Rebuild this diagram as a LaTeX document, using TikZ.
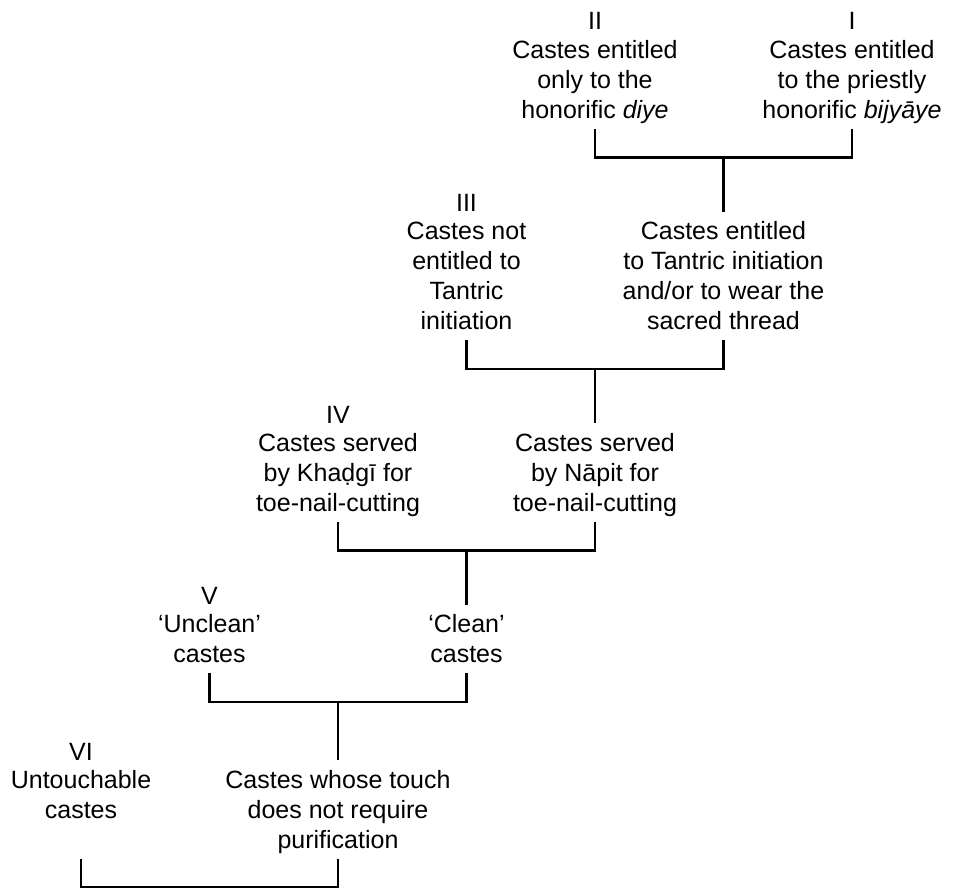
\documentclass[tikz,border=0pt]{standalone}
\usepackage{fontspec}
\setmainfont{Liberation Sans}
\newcommand{\castelevel}[5]{
  \node(num#1)[numeral] at ([xshift=-128.5pt]top-#1){#2};
  \node(numr#1)[numeral] at (top-#1){#3};
  \node(left#1)[caste] at ([yshift=-4.5pt]num#1.base){#4};
  \node(right#1)[caste] at ([yshift=-4.5pt]top-#1){#5};
  \draw (right#1.south) -- ++(0,29)
    -| coordinate[pos=0.25](join-#1) (left#1.south |- right#1.south);
}

\begin{document}
\begin{tikzpicture}[
  x=0.5pt,y=-0.5pt,
  every node/.style={inner sep=0pt,font=\fontsize{12.5}{15}\selectfont},
  caste/.style={anchor=north,align=center,
    execute at begin node=\strut,execute at end node=\strut},
  numeral/.style={anchor=base},
  every path/.style={line width=1.2pt},
  ]
  \useasboundingbox (0,0) rectangle (954,888);
  \coordinate(top-a) at (852,30);
  \castelevel{a}{II}{I}
    {Castes entitled\\only to the\\honorific \textit{diye}}
    {Castes entitled\\to the priestly\\honorific \textit{bijyāye}}
  \coordinate(top-b) at ([yshift=-27pt]join-a);
  \draw (join-a) -- (top-b);
  \castelevel{b}{III}{}
    {Castes not\\entitled to\\Tantric\\initiation}
    {Castes entitled\\to Tantric initiation\\and/or to wear the\\sacred thread}
  \coordinate(top-c) at ([yshift=-27pt]join-b);
  \draw (join-b) -- (top-c);
  \castelevel{c}{IV}{}
    {Castes served\\by Khaḍgī for\\toe-nail-cutting}
    {Castes served\\by Nāpit for\\toe-nail-cutting}
  \coordinate(top-d) at ([yshift=-27pt]join-c);
  \draw (join-c) -- (top-d);
  \castelevel{d}{V}{}
    {`Unclean'\\castes}
    {`Clean'\\castes}
  \coordinate(top-e) at ([yshift=-29pt]join-d);
  \draw (join-d) -- (top-e);
  \castelevel{e}{VI}{}
    {Untouchable\\castes}
    {Castes whose touch\\does not require\\purification}
\end{tikzpicture}
\end{document}
